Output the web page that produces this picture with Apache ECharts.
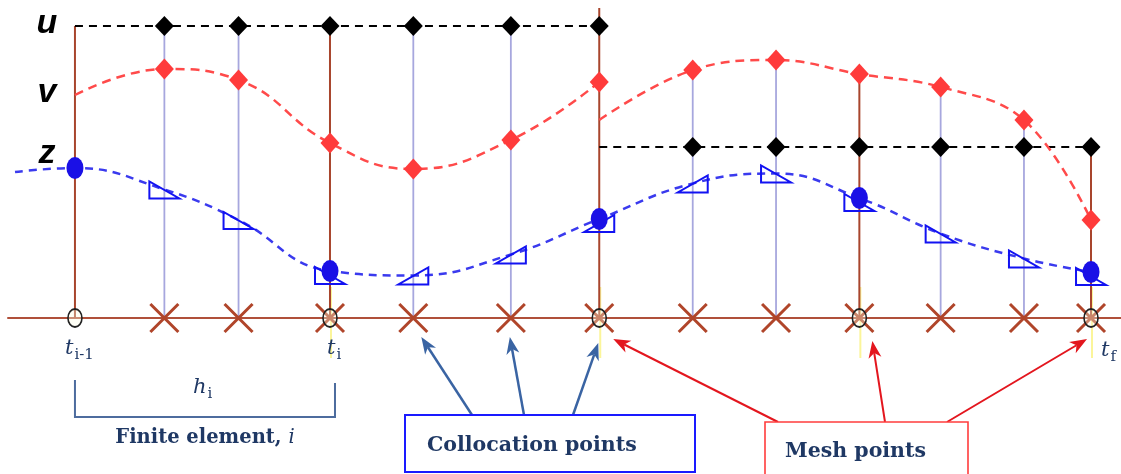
<!DOCTYPE html>
<html>
<head>
<meta charset="utf-8">
<script src="https://cdn.jsdelivr.net/npm/echarts@6/dist/echarts.min.js"></script>
<style>
  html, body { margin: 0; padding: 0; background: #ffffff; }
  #chart { width: 1121px; height: 474px; }
</style>
</head>
<body>
<div id="chart"></div>
<script>
// Orthogonal collocation on finite elements: time grid, mesh and collocation points
const tMesh = [0, 0.251, 0.516, 0.772, 1.0];
const tColloc = [0.088, 0.161, 0.333, 0.429, 0.608, 0.690, 0.852, 0.934];

// Height of the vertical guide through each point
const meshStemTop = [2.92, 2.92, 3.10, 2.44, 1.71];
const collocStemTop = [2.92, 2.92, 2.92, 2.92, 2.48, 2.58, 2.31, 1.98];

// Control u: piecewise constant, one level for elements 1-2 and one for elements 3-4
const uLevels = [2.92, 1.71];
const uLeftT = [0, 0.088, 0.161, 0.251, 0.333, 0.429, 0.516];
const uRightT = [0.516, 0.608, 0.690, 0.772, 0.852, 0.934, 1.0];

// Algebraic variable v: discontinuous at the element boundary t = 0.516
const vLeftT = [0, 0.088, 0.161, 0.251, 0.333, 0.429, 0.516];
const vLeft = [2.23, 2.49, 2.38, 1.75, 1.49, 1.78, 2.36];
const vRightT = [0.516, 0.608, 0.690, 0.772, 0.852, 0.934, 1.0];
const vRight = [1.98, 2.48, 2.58, 2.44, 2.31, 1.98, 0.98];

// Differential state z: continuous across elements
const zT = [-0.059, 0, 0.088, 0.161, 0.251, 0.333, 0.429, 0.516, 0.608, 0.690, 0.772, 0.852, 0.934, 1.0];
const zVal = [1.46, 1.50, 1.285, 0.98, 0.47, 0.425, 0.635, 0.99, 1.345, 1.445, 1.20, 0.845, 0.595, 0.46];

// Text
const stateNames = ['u', 'v', 'z'];
const meshLabels = [['t', 'i-1'], ['t', 'i'], ['t', 'f']];
const elementWidthLabel = ['h', 'i'];
const elementCaption = 'Finite element, ';
const elementIndex = 'i';
const collocCaption = 'Collocation points';
const meshCaption = 'Mesh points';

const NAVY = '#1f3864';
const BROWN = '#a8452d';
const LAVENDER = '#a7a7de';

const chart = echarts.init(document.getElementById('chart'), null, { renderer: 'canvas' });

const isMesh = t => tMesh.indexOf(t) >= 0;

const stemData = tMesh.map((t, i) => [t, meshStemTop[i], 1])
  .concat(tColloc.map((t, i) => [t, collocStemTop[i], 0]));

// slope direction of z at each node (for the derivative triangles)
const triData = [];
zT.forEach((t, i) => {
  if (t <= 0) return;
  const prev = zVal[i - 1];
  const slope = (i + 1 < zVal.length) ? zVal[i + 1] - prev : zVal[i] - prev;
  triData.push([t, zVal[i], slope >= 0 ? 1 : -1, isMesh(t) ? 1 : 0]);
});

const zMesh = tMesh.map(t => [t, zVal[zT.indexOf(t)]]);

function firstPlain(ts, ys) {
  return ts.map((t, i) => i === 0 ? { value: [t, ys[i]], symbol: 'none' } : [t, ys[i]]);
}

const crossPath = 'path://M0,0L20,20M20,0L0,20';

chart.setOption({
  animation: false,
  grid: { left: 8, right: 0, top: 0, bottom: 0 },
  xAxis: {
    type: 'value', min: -0.0659, max: 1.0295,
    axisLine: { show: true, onZero: true, lineStyle: { color: '#b0503a', width: 2 } },
    axisTick: { show: false }, axisLabel: { show: false }, splitLine: { show: false }
  },
  yAxis: {
    type: 'value', min: -1.56, max: 3.18,
    axisLine: { show: false }, axisTick: { show: false }, axisLabel: { show: false }, splitLine: { show: false }
  },
  series: [
    {
      // faint guides under the element boundaries
      type: 'custom', z: 1, silent: true,
      data: tMesh.slice(1).map(t => [t]),
      renderItem: (params, api) => {
        const a = api.coord([api.value(0), 0.31]);
        const b = api.coord([api.value(0), -0.40]);
        return { type: 'line', shape: { x1: a[0] + 1, y1: a[1], x2: b[0] + 1, y2: b[1] },
          style: { stroke: '#fbf59a', lineWidth: 2 } };
      }
    },
    {
      type: 'custom', z: 2, silent: true,
      data: stemData,
      renderItem: (params, api) => {
        const a = api.coord([api.value(0), 0]);
        const b = api.coord([api.value(0), api.value(1)]);
        const mesh = api.value(2) === 1;
        return { type: 'line', shape: { x1: a[0], y1: a[1], x2: b[0], y2: b[1] },
          style: { stroke: mesh ? BROWN : LAVENDER, lineWidth: mesh ? 2 : 1.8 } };
      }
    },
    {
      name: 'u', type: 'line', z: 4,
      data: firstPlain(uLeftT, uLeftT.map(() => uLevels[0])),
      symbol: 'diamond', symbolSize: [19, 20],
      itemStyle: { color: '#000000', opacity: 1 },
      lineStyle: { color: '#000000', width: 1.8, type: [8, 6] }
    },
    {
      name: 'u', type: 'line', z: 4,
      data: firstPlain(uRightT, uRightT.map(() => uLevels[1])),
      symbol: 'diamond', symbolSize: [19, 20],
      itemStyle: { color: '#000000', opacity: 1 },
      lineStyle: { color: '#000000', width: 1.8, type: [8, 6] }
    },
    {
      name: 'v', type: 'line', z: 4, smooth: 0.45,
      data: firstPlain(vLeftT, vLeft),
      symbol: 'diamond', symbolSize: [19, 21],
      itemStyle: { color: '#ff3b3b', opacity: 1 },
      lineStyle: { color: '#ff4a4a', width: 2.5, type: [9, 6] }
    },
    {
      name: 'v', type: 'line', z: 4, smooth: 0.4,
      data: firstPlain(vRightT, vRight),
      symbol: 'diamond', symbolSize: [19, 21],
      itemStyle: { color: '#ff3b3b', opacity: 1 },
      lineStyle: { color: '#ff4a4a', width: 2.5, type: [9, 6] }
    },
    {
      name: 'z', type: 'line', z: 4, smooth: 0.45, symbol: 'none',
      data: zT.map((t, i) => [t, zVal[i]]),
      lineStyle: { color: '#3a3aee', width: 2.5, type: [8, 6] }
    },
    {
      type: 'custom', z: 5, silent: true,
      data: triData,
      renderItem: (params, api) => {
        const p = api.coord([api.value(0), api.value(1)]);
        const dir = api.value(2);
        const cx = p[0], cy = p[1] + (api.value(3) ? 4 : 0);
        const pts = dir < 0
          ? [[cx - 15, cy - 8], [cx - 15, cy + 9], [cx + 15, cy + 9]]
          : [[cx - 15, cy + 9], [cx + 15, cy + 9], [cx + 15, cy - 8]];
        return { type: 'polygon', shape: { points: pts },
          style: { fill: 'none', stroke: '#1212f2', lineWidth: 2 } };
      }
    },
    {
      type: 'scatter', z: 6,
      data: zMesh,
      symbol: 'circle', symbolSize: [17, 22],
      itemStyle: { color: '#1a10e6', opacity: 1 }
    },
    {
      type: 'scatter', z: 3,
      data: tColloc.concat(tMesh.slice(1)).map(t => [t, 0]),
      symbol: crossPath, symbolSize: 28,
      itemStyle: { color: 'none', borderColor: '#b0452a', borderWidth: 3, opacity: 1 }
    },
    {
      type: 'scatter', z: 7,
      data: tMesh.map(t => [t, 0]),
      symbol: 'circle', symbolSize: [14, 18],
      itemStyle: { color: 'rgba(255,255,230,0.35)', borderColor: '#222222', borderWidth: 1.8, opacity: 1 }
    }
  ]
});

// ---- annotations: state names, time labels, element bracket, callout boxes ----
const ctx = document.createElement('canvas').getContext('2d');
function textWidth(str, font) { ctx.font = font; return ctx.measureText(str).width; }
const px = (t, y) => chart.convertToPixel({ gridIndex: 0 }, [t, y]);

const els = [];
const stateFont = 'italic bold 34px "Liberation Sans", Arial, sans-serif';
const stateY = [24, 93, 154];
stateNames.forEach((s, i) => {
  els.push({ type: 'text', z: 10, style: { text: s, x: 47, y: stateY[i], font: stateFont,
    fill: '#000000', align: 'center', verticalAlign: 'middle' } });
});

const mainFont = 'italic 21px "DejaVu Serif", serif';
const subFont = '15px "DejaVu Serif", serif';
function subscripted(x, y, main, sub, color) {
  const w = textWidth(main, mainFont);
  els.push({ type: 'text', z: 10, style: { text: main, x: x, y: y, font: mainFont, fill: color,
    align: 'left', verticalAlign: 'middle' } });
  els.push({ type: 'text', z: 10, style: { text: sub, x: x + w + 1, y: y + 6, font: subFont, fill: color,
    align: 'left', verticalAlign: 'middle' } });
}
const m0 = px(tMesh[0], 0), m1 = px(tMesh[1], 0), mEnd = px(tMesh[4], 0);
subscripted(m0[0] - 10, m0[1] + 31, meshLabels[0][0], meshLabels[0][1], NAVY);
subscripted(m1[0] - 3, m1[1] + 31, meshLabels[1][0], meshLabels[1][1], NAVY);
subscripted(mEnd[0] + 10, mEnd[1] + 33, meshLabels[2][0], meshLabels[2][1], NAVY);

// element bracket
const bx0 = m0[0], bx1 = m1[0] + 5, by = 417;
const bracketStyle = { stroke: '#4d6c9e', lineWidth: 2 };
els.push({ type: 'polyline', z: 10, shape: { points: [[bx0, 380], [bx0, by], [bx1, by], [bx1, 383]] }, style: bracketStyle });
subscripted((bx0 + bx1) / 2 - 12, 388, elementWidthLabel[0], elementWidthLabel[1], NAVY);
const capFont = 'bold 19.5px "DejaVu Serif", serif';
const capW = textWidth(elementCaption, capFont);
const idxFont = 'italic 19.5px "DejaVu Serif", serif';
const capX = (bx0 + bx1) / 2 - (capW + textWidth(elementIndex, idxFont)) / 2;
els.push({ type: 'text', z: 10, style: { text: elementCaption, x: capX, y: 438, font: capFont, fill: NAVY, align: 'left', verticalAlign: 'middle' } });
els.push({ type: 'text', z: 10, style: { text: elementIndex, x: capX + capW, y: 438, font: idxFont, fill: NAVY, align: 'left', verticalAlign: 'middle' } });

// callout boxes
const boxFont = 'bold 20.5px "DejaVu Serif", serif';
els.push({ type: 'rect', z: 10, shape: { x: 405, y: 415, width: 290, height: 57 },
  style: { fill: '#ffffff', stroke: '#1a1aff', lineWidth: 2 } });
els.push({ type: 'text', z: 11, style: { text: collocCaption, x: 427, y: 446, font: boxFont, fill: NAVY, align: 'left', verticalAlign: 'middle' } });
els.push({ type: 'rect', z: 10, shape: { x: 765, y: 422, width: 203, height: 60 },
  style: { fill: '#ffffff', stroke: '#ff3c3c', lineWidth: 1.6 } });
els.push({ type: 'text', z: 11, style: { text: meshCaption, x: 785, y: 452, font: boxFont, fill: NAVY, align: 'left', verticalAlign: 'middle' } });

function arrow(x1, y1, x2, y2, color, width) {
  const a = Math.atan2(y2 - y1, x2 - x1), c = Math.cos(a), s = Math.sin(a);
  const L = 17, W = 6.5;
  const bx = x2 - L * c, byy = y2 - L * s;
  const nx = -s, ny = c;
  const notch = [x2 - 0.72 * L * c, y2 - 0.72 * L * s];
  els.push({ type: 'line', z: 9, shape: { x1: x1, y1: y1, x2: notch[0], y2: notch[1] },
    style: { stroke: color, lineWidth: width } });
  els.push({ type: 'polygon', z: 9, shape: { points: [[x2, y2], [bx + nx * W, byy + ny * W], notch, [bx - nx * W, byy - ny * W]] },
    style: { fill: color } });
}
const BLUE_ARROW = '#3a64a3', RED_ARROW = '#e3161e';
const c2 = px(tColloc[2], 0), c3 = px(tColloc[3], 0), mB = px(tMesh[2], 0), m3 = px(tMesh[3], 0);
arrow(472, 415, c2[0] + 8, c2[1] + 19, BLUE_ARROW, 2.5);
arrow(524, 415, c3[0] - 1, c3[1] + 19, BLUE_ARROW, 2.5);
arrow(573, 415, mB[0] - 1, mB[1] + 25, BLUE_ARROW, 2.5);
arrow(778, 422, mB[0] + 14, mB[1] + 21, RED_ARROW, 2);
arrow(885, 422, m3[0] + 13, m3[1] + 23, RED_ARROW, 2);
arrow(947, 422, mEnd[0] - 4, mEnd[1] + 21, RED_ARROW, 2);

chart.setOption({ graphic: { elements: els } });
</script>
</body>
</html>
